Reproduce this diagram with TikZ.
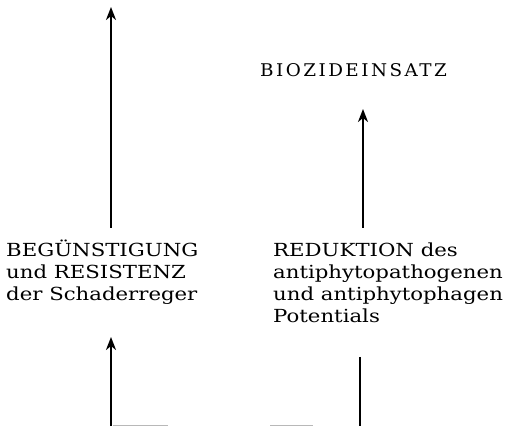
\documentclass[tikz,border=0pt]{standalone}
\usepackage{fontspec}
\setmainfont{DejaVu Serif}[FakeStretch=1.18]
\newfontfamily\sperrfont{DejaVu Serif}[LetterSpace=14, FakeStretch=1.05]
\usepackage{tikz}
\usetikzlibrary{arrows.meta}
\definecolor{RandGrau}{HTML}{B8B8B8}

\begin{document}
\begin{tikzpicture}[x=1pt, y=1pt, every node/.style={inner sep=0pt, align=left, font=\fontsize{18}{22}\selectfont},
  pfeil/.style={line width=2.5pt, -{Stealth[length=13pt, width=10pt, inset=4pt]}}]
  \useasboundingbox (0,0) rectangle (509,426);
  \node[anchor=base west, font=\fontsize{17.5}{20}\selectfont\sperrfont] (biozid) at (260,349) {BIOZIDEINSATZ};
  \node[anchor=base west] (beguenst) at (6,125) {BEGÜNSTIGUNG\\und RESISTENZ\\der Schaderreger};
  \node[anchor=base west] (redukt) at (273,103) {REDUKTION des\\antiphytopathogenen\\und antiphytophagen\\Potentials};
  \coordinate (obenspitze) at (111,419);
  \coordinate (lfuss) at (111,198);
  \coordinate (rspitze) at (363,317);
  \coordinate (rfuss) at (363,198);
  \coordinate (unten1) at (111,0);
  \coordinate (uspitze) at (111,89);
  \coordinate (rkante) at (360,69);
  \coordinate (unten2) at (360,0);
  \draw[pfeil] (lfuss) -- (obenspitze);
  \draw[pfeil] (rfuss) -- (rspitze);
  \draw[pfeil] (unten1) -- (uspitze);
  \draw[line width=2.5pt] (rkante) -- (unten2);
  \draw[RandGrau, line width=0.8pt] (113,1) -- (168,1);
  \draw[RandGrau, line width=0.8pt] (270,1) -- (313,1);
\end{tikzpicture}
\end{document}
